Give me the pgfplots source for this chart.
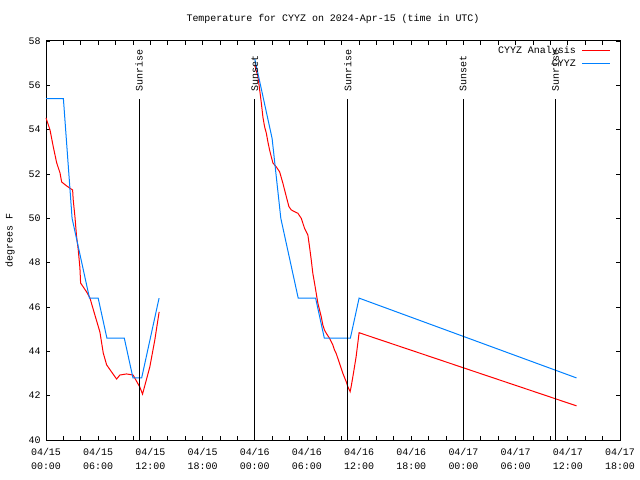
\documentclass[border=0pt]{standalone}
\usepackage{fontspec}
\setmainfont{Liberation Mono}
\usepackage{pgfplots}
\pgfplotsset{compat=1.18}
\definecolor{cred}{RGB}{255,0,0}
\definecolor{cblue}{RGB}{0,128,255}
\begin{document}
\begin{tikzpicture}[font=\fontsize{10}{12}\selectfont]
\path[use as bounding box] (0,0) rectangle (640bp,480bp);
\begin{axis}[
  at={(46bp,40bp)}, anchor=south west,
  scale only axis, width=574bp, height=399bp,
  xmin=0, xmax=66, ymin=40, ymax=58,
  xtick={0,6,...,66},
  xticklabels={{04/15\\00:00},{04/15\\06:00},{04/15\\12:00},{04/15\\18:00},{04/16\\00:00},{04/16\\06:00},{04/16\\12:00},{04/16\\18:00},{04/17\\00:00},{04/17\\06:00},{04/17\\12:00},{04/17\\18:00}},
  minor xtick={0,2,...,66},
  ytick={40,42,...,58},
  x tick label style={align=center, font=\fontsize{10}{14}\selectfont, inner sep=2bp, yshift=-6bp},
  y tick label style={font=\fontsize{10}{12}\selectfont, xshift=-2bp},
  /pgf/number format/assume math mode=true,
  major tick length=4bp, minor tick length=4bp,
  tick style={black, line width=0.8bp},
  axis line style={line width=1bp},
  ylabel={degrees F},
  every axis y label/.style={at={(axis description cs:0,0.5)}, xshift=-36bp, rotate=90, anchor=center},
  title={Temperature for CYYZ on 2024-Apr-15 (time in UTC)},
  every axis title/.style={at={(axis description cs:0.5,1)}, yshift=22bp, anchor=center},
  legend plot pos=right,
  legend cell align=right,
  legend style={draw=none, fill=none, at={(1,1)}, anchor=north east, xshift=-6bp, yshift=-1bp, row sep=1bp, column sep=4bp, font=\fontsize{10}{12}\selectfont},
  legend image code/.code={\draw[#1] (0bp,0bp) -- (28bp,0bp);},
  clip=false,
]
\addplot[cred, line width=1bp] coordinates {(0,54.53) (0.46,53.99) (0.84,53.22) (1.23,52.50) (1.61,52.05) (1.80,51.64) (2.38,51.46) (3.06,51.28) (3.13,50.83) (3.33,50.06) (3.52,49.16) (3.71,48.57) (3.90,47.76) (3.98,47.08) (4.67,46.68) (5.05,46.41) (5.62,45.64) (6.20,44.87) (6.58,43.93) (6.97,43.39) (7.54,43.07) (8.12,42.75) (8.49,42.93) (9.26,42.98) (10.02,42.93) (10.41,42.65) (10.79,42.39) (11.10,42.07) (11.94,43.30) (12.51,44.51) (13.01,45.78)};
\addlegendentry{CYYZ Analysis}
\addplot[cblue, line width=1bp] coordinates {(0,55.4) (1,55.4) (2,55.4) (3,50) (4,48.2) (5,46.4) (6,46.4) (7,44.6) (8,44.6) (9,44.6) (10,42.8) (11,42.8) (12,44.6) (13,46.4)};
\addlegendentry{CYYZ}
\addplot[cred, line width=1bp, forget plot] coordinates {(24.0,56.92) (24.37,56.39) (24.57,55.79) (24.76,55.20) (24.94,54.57) (25.14,54.12) (25.33,53.85) (25.52,53.44) (25.71,53.08) (25.91,52.77) (26.09,52.50) (26.48,52.32) (26.86,52.10) (27.24,51.58) (27.63,50.98) (27.93,50.53) (28.20,50.38) (28.58,50.30) (28.96,50.23) (29.35,50.00) (29.73,49.55) (30.11,49.25) (30.30,48.72) (30.50,48.12) (30.68,47.52) (30.88,47.07) (31.07,46.62) (31.26,46.17) (31.45,45.87) (31.65,45.56) (31.83,45.19) (32.02,44.96) (32.22,44.82) (32.60,44.59) (32.79,44.44) (32.98,44.29) (33.17,44.06) (33.36,43.91) (33.75,43.46) (34.13,43.01) (34.52,42.63) (34.70,42.41) (34.97,42.18) (35.09,42.41) (35.35,43.01) (35.66,43.76) (36.0,44.84) (61.0,41.54)};
\addplot[cblue, line width=1bp, forget plot] coordinates {(24,57.2) (25,55.4) (26,53.6) (27,50) (28,48.2) (29,46.4) (30,46.4) (31,46.4) (32,44.6) (33,44.6) (34,44.6) (35,44.6) (36,46.4) (61,42.8)};
\addplot[black, line width=1bp, forget plot] coordinates {(10.7,40) (10.7,55.37)};
\addplot[black, line width=1bp, forget plot] coordinates {(24.0,40) (24.0,55.37)};
\addplot[black, line width=1bp, forget plot] coordinates {(34.7,40) (34.7,55.37)};
\addplot[black, line width=1bp, forget plot] coordinates {(47.95,40) (47.95,55.37)};
\addplot[black, line width=1bp, forget plot] coordinates {(58.55,40) (58.55,55.37)};
\node[rotate=90, anchor=west, inner sep=0pt] at (axis cs:10.7,55.7) {Sunrise};
\node[rotate=90, anchor=west, inner sep=0pt] at (axis cs:24.0,55.7) {Sunset};
\node[rotate=90, anchor=west, inner sep=0pt] at (axis cs:34.7,55.7) {Sunrise};
\node[rotate=90, anchor=west, inner sep=0pt] at (axis cs:47.95,55.7) {Sunset};
\node[rotate=90, anchor=west, inner sep=0pt] at (axis cs:58.55,55.7) {Sunrise};
\end{axis}
\end{tikzpicture}
\end{document}
